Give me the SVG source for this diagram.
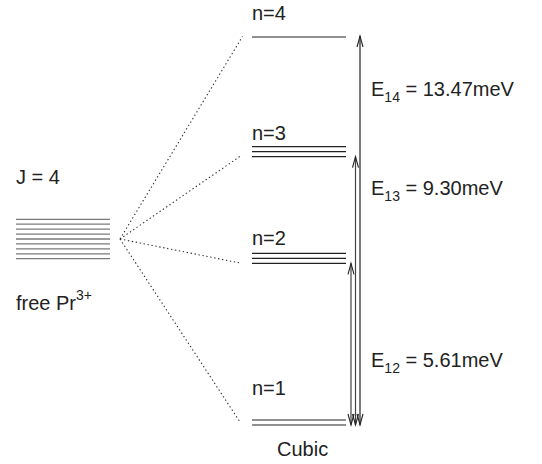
<svg xmlns="http://www.w3.org/2000/svg" width="542" height="464" viewBox="0 0 542 464">
  <defs>
    <style>
      text { font-family: "Liberation Sans", Arial, sans-serif; font-size: 20px; fill: #222; }
      .sub { font-size: 14px; }
      .jlevel { stroke: #7a7a7a; stroke-width: 1.3; fill: none; }
      .level { stroke: #222; stroke-width: 1.2; fill: none; }
      .dot { stroke: #333; stroke-width: 1.1; stroke-dasharray: 1.4 2.6; fill: none; }
      .shaft { stroke: #444; stroke-width: 1.2; fill: none; }
      .head { stroke: #222; stroke-width: 1.1; fill: none; }
    </style>
    <!-- open chevron arrowhead, tip at origin, pointing up -->
    <path id="headUp" class="head" d="M-3,11 L0,0 L3,11"/>
    <path id="headDown" class="head" d="M-3,-11 L0,0 L3,-11"/>
  </defs>

  <!-- free ion multiplet -->
  <g id="free-ion">
    <text x="16" y="184">J = 4</text>
    <g>
      <line class="jlevel" x1="16" y1="219.3" x2="110" y2="219.3"/>
      <line class="jlevel" x1="16" y1="224.2" x2="110" y2="224.2"/>
      <line class="jlevel" x1="16" y1="229.1" x2="110" y2="229.1"/>
      <line class="jlevel" x1="16" y1="234.1" x2="110" y2="234.1"/>
      <line class="jlevel" x1="16" y1="239" x2="110" y2="239"/>
      <line class="jlevel" x1="16" y1="243.9" x2="110" y2="243.9"/>
      <line class="jlevel" x1="16" y1="248.8" x2="110" y2="248.8"/>
      <line class="jlevel" x1="16" y1="253.8" x2="110" y2="253.8"/>
      <line class="jlevel" x1="16" y1="258.7" x2="110" y2="258.7"/>
    </g>
    <text x="16" y="310">free Pr<tspan class="sub" dy="-10">3+</tspan></text>
  </g>

  <!-- crystal field levels -->
  <g id="level-n4">
    <text x="252" y="20">n=4</text>
    <line class="level" x1="252" y1="37" x2="346" y2="37"/>
  </g>
  <g id="level-n3">
    <text x="252" y="140">n=3</text>
    <line class="level" x1="252" y1="146.7" x2="346" y2="146.7"/>
    <line class="level" x1="252" y1="151.7" x2="346" y2="151.7"/>
    <line class="level" x1="252" y1="156.7" x2="346" y2="156.7"/>
  </g>
  <g id="level-n2">
    <text x="252" y="245">n=2</text>
    <line class="level" x1="252" y1="253.3" x2="346" y2="253.3"/>
    <line class="level" x1="252" y1="258.3" x2="346" y2="258.3"/>
    <line class="level" x1="252" y1="263.3" x2="346" y2="263.3"/>
  </g>
  <g id="level-n1">
    <text x="252" y="395">n=1</text>
    <line class="level" x1="252" y1="420" x2="346" y2="420"/>
    <line class="level" x1="252" y1="425" x2="346" y2="425"/>
    <text x="277" y="456">Cubic</text>
  </g>

  <!-- splitting lines and transition arrows -->
  <g id="connectors">
    <line class="dot" x1="120" y1="239" x2="242.5" y2="36.5"/>
    <line class="dot" x1="120" y1="239" x2="242" y2="155"/>
    <line class="dot" x1="120" y1="239" x2="240" y2="263"/>
    <line class="dot" x1="120" y1="239" x2="240" y2="422"/>

    <line class="shaft" x1="351" y1="263.3" x2="351" y2="425"/>
    <use href="#headUp" x="351" y="263.3"/>
    <use href="#headDown" x="351" y="425"/>

    <line class="shaft" x1="355.5" y1="156.7" x2="355.5" y2="425"/>
    <use href="#headUp" x="355.5" y="156.7"/>
    <use href="#headDown" x="355.5" y="425"/>

    <line class="shaft" x1="360" y1="36" x2="360" y2="425" style="stroke:#222"/>
    <use href="#headUp" x="360" y="36"/>
    <use href="#headDown" x="360" y="425"/>
  </g>

  <g id="labels">
    <text x="371" y="96">E<tspan class="sub" dy="6">14</tspan><tspan dy="-6"> = 13.47meV</tspan></text>
    <text x="371" y="195">E<tspan class="sub" dy="6">13</tspan><tspan dy="-6"> = 9.30meV</tspan></text>
    <text x="371" y="367">E<tspan class="sub" dy="6">12</tspan><tspan dy="-6"> = 5.61meV</tspan></text>
  </g>
</svg>
